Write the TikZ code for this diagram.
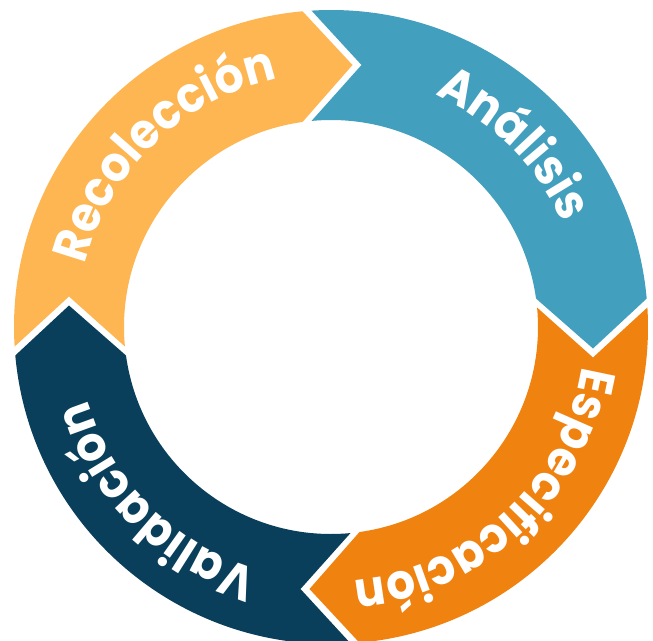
\documentclass[tikz,border=0pt]{standalone}
\usepackage{tikz}
\usepackage{fontspec}
\usetikzlibrary{decorations.text}
\newfontfamily\ringfont{Poppins}[FakeStretch=0.92]
\definecolor{recyellow}{RGB}{253,182,82}
\definecolor{anablue}{RGB}{67,159,190}
\definecolor{esporange}{RGB}{240,130,16}
\definecolor{valnavy}{RGB}{9,63,91}

\begin{document}
\begin{tikzpicture}[x=0.03cm,y=0.03cm]
            \tikzstyle{ringtext}=[decorate,decoration={text along path,text align=center,text color=white}]
            \useasboundingbox (-331,-313) rectangle (322,327);
            % the four pieces, each one turned a quarter further
            \foreach \col [count=\k from 0] in {recyellow,anablue,esporange,valnavy}
                \fill[\col,rotate=-90*\k] (183.53:317) -- (-262,30.5) -- (185.4:207)
                    arc[start angle=185.4,end angle=97.9,radius=207] -- (21.5,262) -- (95.15:317)
                    arc[start angle=95.15,end angle=183.53,radius=317] -- cycle;

            \path[ringtext,decoration={text={|\ringfont\bfseries\fontsize{42}{50}\selectfont|Recolección}}]
                (194:254) arc[start angle=194,end angle=74,radius=254];
            \path[ringtext,decoration={text={|\ringfont\bfseries\fontsize{42}{50}\selectfont|Análisis}}]
                (105:254) arc[start angle=105,end angle=-15,radius=254];
            \path[ringtext,decoration={text={|\ringfont\bfseries\fontsize{42}{50}\selectfont|Especificación}}]
                (13:254) arc[start angle=13,end angle=-107,radius=254];
            \path[ringtext,decoration={text={|\ringfont\bfseries\fontsize{42}{50}\selectfont|Validación}}]
                (-75:254) arc[start angle=-75,end angle=-195,radius=254];
        \end{tikzpicture}
\end{document}
